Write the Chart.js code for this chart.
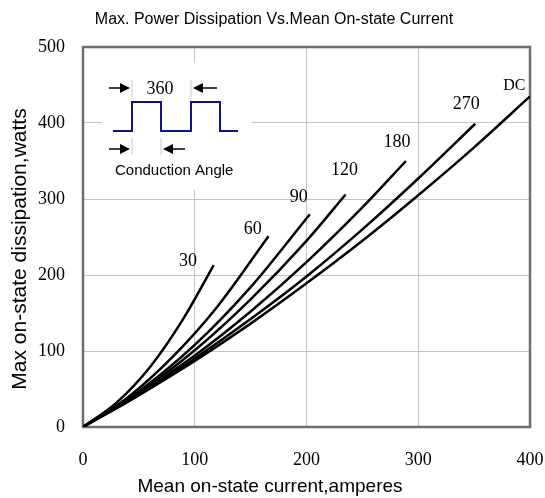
<!DOCTYPE html>
<html lang="en">
<head>
<meta charset="UTF-8">
<title>Max. Power Dissipation Vs.Mean On-state Current</title>
<script src="https://cdn.jsdelivr.net/npm/chart.js@4"></script>
<style>
    html, body { margin: 0; padding: 0; background: #fff; }
    #wrap { width: 545px; height: 498px; }
</style>
</head>
<body>
<div id="wrap"><canvas id="chart" width="545" height="498"></canvas></div>
<script>
// conduction angle curves (amperes -> watts)
const dcAmps   = [0, 50, 100, 150, 200, 250, 300, 350, 400];
const dcWatts  = [0, 42, 87, 136, 189, 245, 305, 368, 435];
const a270Amps  = [0, 50, 100, 150, 200, 250, 300, 351];
const a270Watts = [0, 42, 90, 142, 198, 260, 327, 399];
const a180Amps  = [0, 50, 100, 150, 200, 250, 289];
const a180Watts = [0, 44, 94, 152, 217, 289, 350];
const a120Amps  = [0, 50, 100, 150, 200, 235];
const a120Watts = [0, 45, 101, 168, 245, 306];
const a90Amps   = [0, 50, 100, 150, 203];
const a90Watts  = [0, 47, 108, 184, 280];
const a60Amps   = [0, 40, 80, 120, 166];
const a60Watts  = [0, 39, 92, 158, 251];
const a30Amps   = [0, 30, 60, 90, 117];
const a30Watts  = [0, 32, 79, 143, 213];

const curveNames = ['DC', '270', '180', '120', '90', '60', '30'];
// where each curve's name sits, in axis units
const labelAmps  = [386, 343, 281, 234, 193, 152, 94];
const labelWatts = [449, 424, 375, 338, 302, 260, 218];

const xTicks = [0, 100, 200, 300, 400];
const yTicks = [0, 100, 200, 300, 400, 500];

const pairs = (xs, ys) => xs.map((x, i) => ({ x: x, y: ys[i] }));
const series = [
    pairs(dcAmps, dcWatts), pairs(a270Amps, a270Watts), pairs(a180Amps, a180Watts),
    pairs(a120Amps, a120Watts), pairs(a90Amps, a90Watts), pairs(a60Amps, a60Watts),
    pairs(a30Amps, a30Watts)
];

const SANS = '"Liberation Sans", Arial, sans-serif';
const SERIF = '"Liberation Serif", "Times New Roman", serif';

function arrow(ctx, x1, x2, y) {
    // shaft from x1 to x2, filled head at x2
    const dir = x2 > x1 ? 1 : -1;
    ctx.beginPath();
    ctx.moveTo(x1, y);
    ctx.lineTo(x2 - dir * 8, y);
    ctx.stroke();
    ctx.beginPath();
    ctx.moveTo(x2, y);
    ctx.lineTo(x2 - dir * 10, y - 5);
    ctx.lineTo(x2 - dir * 10, y + 5);
    ctx.closePath();
    ctx.fill();
}

const decorations = {
    id: 'decorations',
    beforeDatasetsDraw(chart) {
        const ctx = chart.ctx, a = chart.chartArea;
        ctx.save();
        // white panel behind the waveform sketch hides the grid
        ctx.fillStyle = '#fff';
        ctx.fillRect(a.left + 19, a.top + 16, 150, 127);
        // frame
        ctx.strokeStyle = '#6e6e6e';
        ctx.lineWidth = 2.5;
        ctx.strokeRect(a.left, a.top, a.right - a.left, a.bottom - a.top);
        ctx.restore();
    },
    afterDraw(chart) {
        const ctx = chart.ctx, a = chart.chartArea;
        const xs = chart.scales.x, ys = chart.scales.y;
        ctx.save();

        // title
        ctx.fillStyle = '#000';
        ctx.textAlign = 'center';
        ctx.textBaseline = 'middle';
        ctx.font = '16px ' + SANS;
        ctx.fillText('Max. Power Dissipation Vs.Mean On-state Current', 274, 20);

        // axis titles
        ctx.font = '19px ' + SANS;
        ctx.fillText('Mean on-state current,amperes', 270, 487);
        ctx.save();
        ctx.translate(20, 249);
        ctx.rotate(-Math.PI / 2);
        ctx.font = '21px ' + SANS;
        ctx.fillText('Max on-state dissipation,watts', 0, 0);
        ctx.restore();

        // curve names
        curveNames.forEach((name, i) => {
            ctx.font = (name === 'DC' ? '16px ' : '18px ') + SERIF;
            ctx.fillText(name, xs.getPixelForValue(labelAmps[i]), ys.getPixelForValue(labelWatts[i]));
        });

        // waveform sketch
        const ox = a.left, oy = a.top;
        ctx.strokeStyle = '#10108a';
        ctx.lineWidth = 2;
        ctx.beginPath();
        ctx.moveTo(ox + 30, oy + 84);
        ctx.lineTo(ox + 49, oy + 84);
        ctx.lineTo(ox + 49, oy + 55);
        ctx.lineTo(ox + 78, oy + 55);
        ctx.lineTo(ox + 78, oy + 84);
        ctx.lineTo(ox + 108, oy + 84);
        ctx.lineTo(ox + 108, oy + 55);
        ctx.lineTo(ox + 137, oy + 55);
        ctx.lineTo(ox + 137, oy + 84);
        ctx.lineTo(ox + 155, oy + 84);
        ctx.stroke();

        ctx.strokeStyle = '#c8c8c8';
        ctx.lineWidth = 1;
        ctx.beginPath();
        ctx.moveTo(ox + 49, oy + 33); ctx.lineTo(ox + 49, oy + 50);
        ctx.moveTo(ox + 108, oy + 33); ctx.lineTo(ox + 108, oy + 50);
        ctx.moveTo(ox + 49, oy + 91); ctx.lineTo(ox + 49, oy + 108);
        ctx.moveTo(ox + 78, oy + 91); ctx.lineTo(ox + 78, oy + 108);
        ctx.stroke();

        ctx.strokeStyle = '#000';
        ctx.fillStyle = '#000';
        ctx.lineWidth = 1.5;
        arrow(ctx, ox + 26, ox + 47, oy + 41);
        arrow(ctx, ox + 134, ox + 110, oy + 41);
        arrow(ctx, ox + 26, ox + 47, oy + 102);
        arrow(ctx, ox + 102, ox + 80, oy + 102);

        ctx.font = '18px ' + SERIF;
        ctx.fillText('360', ox + 77, oy + 42);
        ctx.font = '15px ' + SANS;
        ctx.textAlign = 'left';
        ctx.fillText('Conduction Angle', ox + 32, oy + 124);

        ctx.restore();
    }
};

new Chart(document.getElementById('chart'), {
    type: 'line',
    data: {
        datasets: series.map((pts, i) => ({
            label: curveNames[i],
            data: pts,
            borderColor: '#000',
            borderWidth: 2.5,
            pointRadius: 0,
            fill: false,
            cubicInterpolationMode: 'monotone'
        }))
    },
    options: {
        responsive: false,
        animation: false,
        layout: { padding: { top: 47, right: 15, left: 0, bottom: 0 } },
        plugins: { legend: { display: false }, title: { display: false }, tooltip: { enabled: false } },
        scales: {
            x: {
                type: 'linear',
                min: xTicks[0], max: xTicks[xTicks.length - 1],
                afterBuildTicks: s => { s.ticks = xTicks.map(v => ({ value: v })); },
                afterFit: s => { s.height = 71; s.paddingLeft = 0; s.paddingRight = 0; },
                grid: { color: '#c4c4c4', lineWidth: 1, drawTicks: false },
                border: { display: false },
                ticks: { padding: 22, color: '#000', font: { family: SERIF, size: 18 } }
            },
            y: {
                type: 'linear',
                min: yTicks[0], max: yTicks[yTicks.length - 1],
                afterBuildTicks: s => { s.ticks = yTicks.map(v => ({ value: v })); },
                afterFit: s => { s.width = 83; s.paddingTop = 0; s.paddingBottom = 0; },
                grid: { color: '#c4c4c4', lineWidth: 1, drawTicks: false },
                border: { display: false },
                ticks: { padding: 18, color: '#000', font: { family: SERIF, size: 18 } }
            }
        }
    },
    plugins: [decorations]
});
</script>
</body>
</html>
